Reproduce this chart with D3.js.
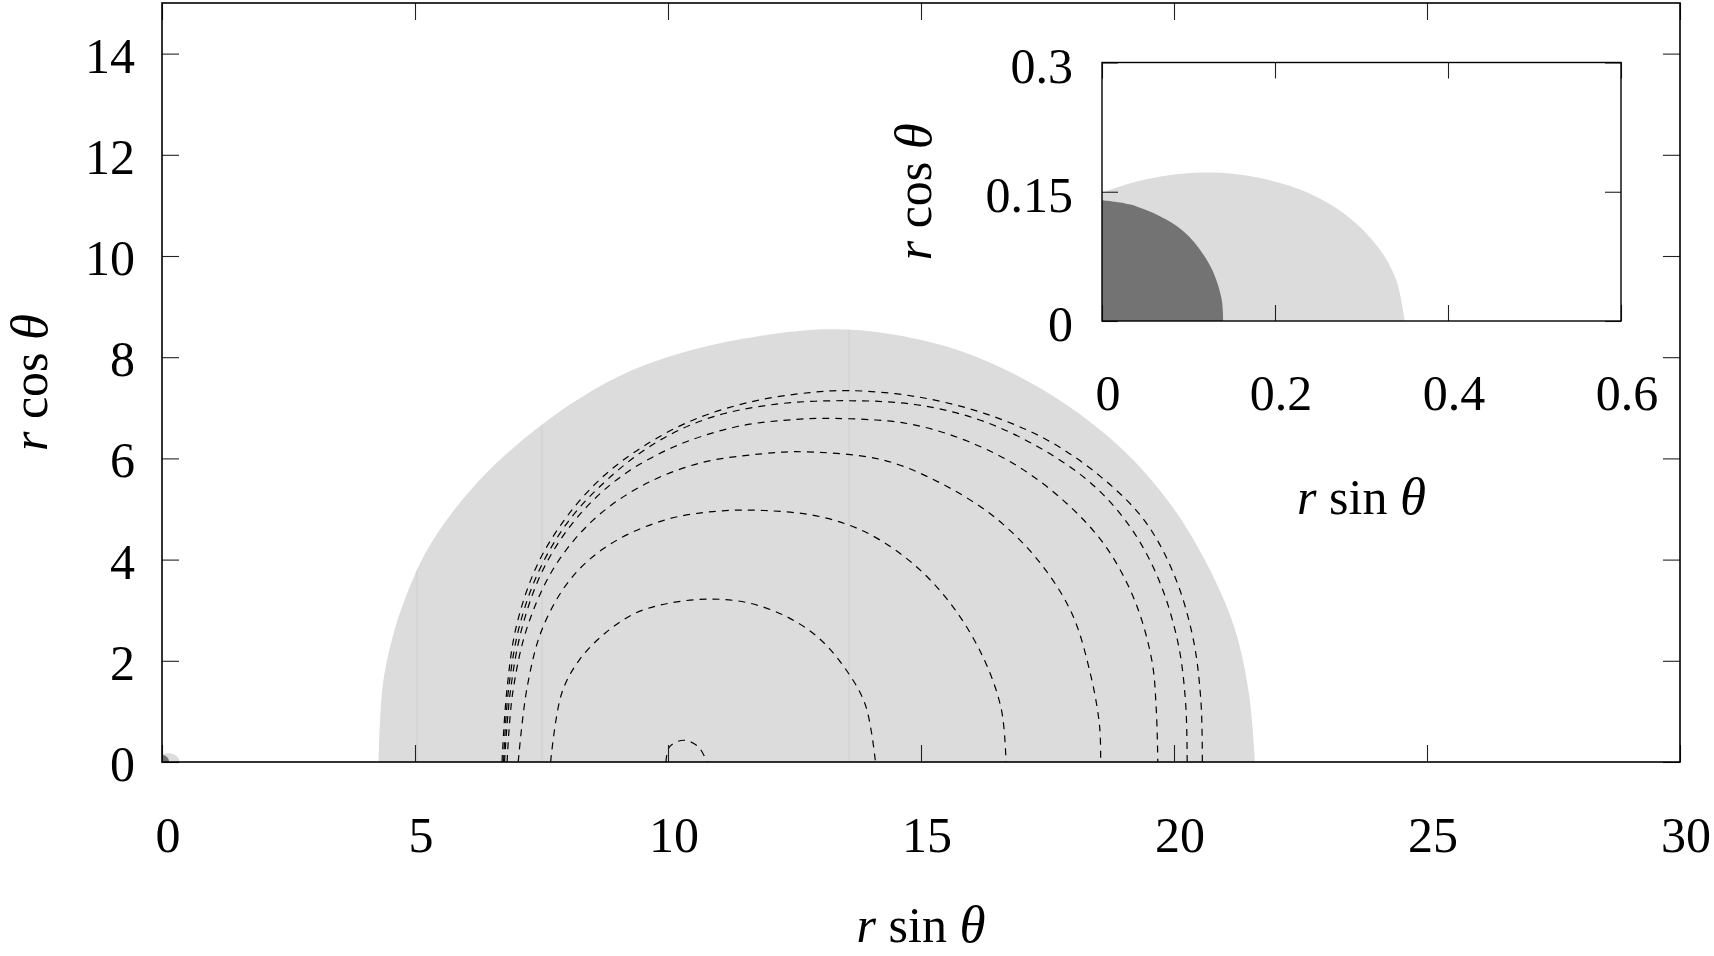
<!DOCTYPE html>
<html>
<head>
<meta charset="utf-8">
<script src="https://cdn.jsdelivr.net/npm/d3@7"></script>
<style>
body { margin: 0; background: #fff; }
svg text { font-family: "Liberation Serif", "Times New Roman", serif; fill: #000; }
</style>
</head>
<body>
<svg id="chart" width="1714" height="956"></svg>
<script>
// Tick values
const xTicks = [0, 5, 10, 15, 20, 25, 30];
const yTicks = [0, 2, 4, 6, 8, 10, 12, 14];
const insetXTicks = [0, 0.2, 0.4, 0.6];
const insetYTicks = [0, 0.15, 0.3];

// Regions, points [r sin θ, r cos θ]
const outerRegion = [[4.28,0],[4.36,1.49],[4.56,2.48],[4.82,3.27],[5.20,4.12],[5.72,4.91],[6.40,5.70],
  [7.05,6.30],[8.10,7.09],[9.15,7.68],[10.50,8.15],[11.82,8.42],[13.10,8.55],[14.12,8.50],[15.51,8.21],
  [16.67,7.75],[17.83,7.09],[18.99,6.17],[19.92,5.11],[20.61,3.99],[21.19,2.67],[21.48,1.36],[21.60,0]];
const haloRegion = [[0,0.149],[0.040,0.162],[0.092,0.171],[0.135,0.172],[0.187,0.165],[0.240,0.148],
  [0.282,0.123],[0.319,0.086],[0.340,0.048],[0.350,0]];
const coreRegion = [[0,0.140],[0.040,0.133],[0.092,0.106],[0.124,0.066],[0.138,0.027],[0.140,0]];

// faint seams inside the outer region
const seams = [5.04, 7.51, 13.58];

// Dashed contours
const level1 = [[9.96,0],[10.03,0.30],[10.31,0.43],[10.60,0.30],[10.77,0]];
const level2 = [[7.68,0],[7.90,1.36],[8.25,2.02],[8.75,2.54],[9.35,2.94],[10.03,3.14],[10.85,3.22],
  [11.61,3.14],[12.35,2.87],[12.98,2.45],[13.50,1.85],[13.90,1.13],[14.10,0]];
const level3 = [[7.04,0],[7.22,1.50],[7.53,2.67],[8.11,3.66],[8.88,4.32],[9.93,4.78],[10.89,4.95],
  [11.90,4.97],[13.00,4.85],[13.95,4.52],[14.91,3.86],[15.68,3.00],[16.25,2.02],[16.59,1.03],[16.68,0]];
const level4 = [[6.82,0],[6.93,1.36],[7.22,2.67],[7.76,3.86],[8.52,4.78],[9.45,5.44],[10.60,5.90],
  [11.85,6.09],[12.70,6.13],[14.24,5.97],[15.39,5.51],[16.44,4.85],[17.31,3.99],[17.98,2.94],
  [18.36,1.69],[18.53,0.70],[18.55,0]];
const level5 = [[6.77,0],[6.88,1.36],[7.12,2.67],[7.56,3.86],[8.22,4.85],[9.07,5.64],[10.12,6.23],
  [11.37,6.63],[12.52,6.77],[13.30,6.79],[14.72,6.69],[15.87,6.36],[16.92,5.84],[17.88,5.11],
  [18.65,4.26],[19.22,3.20],[19.56,2.02],[19.65,1.03],[19.68,0]];
const level6 = [[6.75,0],[6.84,1.36],[7.06,2.67],[7.46,3.80],[8.05,4.78],[8.80,5.58],[9.74,6.30],
  [10.79,6.79],[12.04,7.06],[13.50,7.14],[14.91,7.06],[16.16,6.76],[17.31,6.23],[18.36,5.51],
  [19.13,4.65],[19.70,3.60],[20.08,2.35],[20.23,1.16],[20.26,0]];
const level7 = [[6.72,0],[6.81,1.36],[7.00,2.67],[7.40,3.86],[7.95,4.78],[8.65,5.58],[9.50,6.23],
  [10.50,6.76],[11.65,7.12],[12.80,7.30],[13.60,7.34],[14.91,7.22],[16.25,6.89],[17.50,6.36],
  [18.55,5.64],[19.41,4.78],[19.99,3.73],[20.37,2.48],[20.53,1.23],[20.56,0]];
const contours = [level1, level2, level3, level4, level5, level6, level7];

const LIGHT = '#dcdcdc';
const DARK = '#737373';
const TICK = 17;

const svg = d3.select('#chart');

// Main plot scales (equal aspect)
const x = d3.scaleLinear().domain([0, 30]).range([162, 1680]);
const y = d3.scaleLinear().domain([0, 15]).range([762, 3]);

// Inset scales
const xi = d3.scaleLinear().domain([0, 0.6]).range([1102, 1621]);
const yi = d3.scaleLinear().domain([0, 0.3]).range([321, 62.5]);

const defs = svg.append('defs');
defs.append('clipPath').attr('id', 'mainClip')
  .append('rect').attr('x', 162).attr('y', 3).attr('width', 1518).attr('height', 759);
defs.append('clipPath').attr('id', 'insetClip')
  .append('rect').attr('x', 1102).attr('y', 62.5).attr('width', 519).attr('height', 258.5);

function regionArea(sx, sy) {
  return d3.area()
    .x(d => sx(d[0]))
    .y0(sy(0))
    .y1(d => sy(d[1]))
    .curve(d3.curveCatmullRom.alpha(0.5));
}
function contourLine(sx, sy) {
  return d3.line()
    .x(d => sx(d[0]))
    .y(d => sy(d[1]))
    .curve(d3.curveCatmullRom.alpha(0.5));
}

// ---- main plot ----
const main = svg.append('g').attr('clip-path', 'url(#mainClip)');
main.append('path').attr('d', regionArea(x, y)(outerRegion)).attr('fill', LIGHT);

defs.append('clipPath').attr('id', 'outerClip')
  .append('path').attr('d', regionArea(x, y)(outerRegion));
main.append('g').attr('clip-path', 'url(#outerClip)')
  .selectAll('line').data(seams).enter().append('line')
  .attr('x1', d => x(d)).attr('x2', d => x(d))
  .attr('y1', y(0)).attr('y2', y(9))
  .attr('stroke', '#cfcfcf').attr('stroke-width', 1);

main.append('path').attr('d', regionArea(x, y)(haloRegion)).attr('fill', LIGHT);
main.append('path').attr('d', regionArea(x, y)(coreRegion)).attr('fill', DARK);

main.append('g').selectAll('path').data(contours).enter().append('path')
  .attr('d', contourLine(x, y))
  .attr('fill', 'none')
  .attr('stroke', '#000')
  .attr('stroke-width', 1.2)
  .attr('stroke-dasharray', '7,6');

// axes: inward ticks on all four sides
function styleAxis(g) {
  g.select('.domain').remove();
  g.selectAll('.tick line').attr('stroke', '#222').attr('stroke-width', 1.1);
  g.selectAll('.tick text').remove();
}
svg.append('g').attr('transform', `translate(0,${y(0)})`)
  .call(d3.axisBottom(x).tickValues(xTicks).tickSize(-TICK)).call(styleAxis);
svg.append('g').attr('transform', `translate(0,${y(15)})`)
  .call(d3.axisTop(x).tickValues(xTicks).tickSize(-TICK)).call(styleAxis);
svg.append('g').attr('transform', `translate(${x(0)},0)`)
  .call(d3.axisLeft(y).tickValues(yTicks).tickSize(-TICK)).call(styleAxis);
svg.append('g').attr('transform', `translate(${x(30)},0)`)
  .call(d3.axisRight(y).tickValues(yTicks).tickSize(-TICK)).call(styleAxis);

svg.append('rect')
  .attr('x', x(0)).attr('y', y(15))
  .attr('width', x(30) - x(0)).attr('height', y(0) - y(15))
  .attr('fill', 'none').attr('stroke', '#000').attr('stroke-width', 1.6);

svg.append('g').selectAll('text').data(xTicks).enter().append('text')
  .attr('x', d => x(d) + 6).attr('y', 852)
  .attr('text-anchor', 'middle').attr('font-size', 50)
  .text(d => String(d));
svg.append('g').selectAll('text').data(yTicks).enter().append('text')
  .attr('x', 135).attr('y', d => y(d) + 19)
  .attr('text-anchor', 'end').attr('font-size', 50)
  .text(d => String(d));

function axisTitle(g, fn) {
  const t = g.append('text').attr('font-size', 50).attr('text-anchor', 'middle');
  t.append('tspan').attr('font-style', 'italic').text('r');
  t.append('tspan').text(' ' + fn + ' ');
  t.append('tspan').attr('font-style', 'italic').attr('font-size', 53).text('θ');
  return t;
}
axisTitle(svg, 'sin').attr('x', x(15)).attr('y', 942);
axisTitle(svg, 'cos').attr('transform', `translate(47,${y(7.5)}) rotate(-90)`);

// ---- inset ----
svg.append('rect')
  .attr('x', xi(0)).attr('y', yi(0.3))
  .attr('width', xi(0.6) - xi(0)).attr('height', yi(0) - yi(0.3))
  .attr('fill', '#fff');
const inset = svg.append('g').attr('clip-path', 'url(#insetClip)');
inset.append('path').attr('d', regionArea(xi, yi)(haloRegion)).attr('fill', LIGHT);
inset.append('path').attr('d', regionArea(xi, yi)(coreRegion)).attr('fill', DARK);

svg.append('g').attr('transform', `translate(0,${yi(0)})`)
  .call(d3.axisBottom(xi).tickValues(insetXTicks).tickSize(-16)).call(styleAxis);
svg.append('g').attr('transform', `translate(0,${yi(0.3)})`)
  .call(d3.axisTop(xi).tickValues(insetXTicks).tickSize(-16)).call(styleAxis);
svg.append('g').attr('transform', `translate(${xi(0)},0)`)
  .call(d3.axisLeft(yi).tickValues(insetYTicks).tickSize(-16)).call(styleAxis);
svg.append('g').attr('transform', `translate(${xi(0.6)},0)`)
  .call(d3.axisRight(yi).tickValues(insetYTicks).tickSize(-16)).call(styleAxis);

svg.append('rect')
  .attr('x', xi(0)).attr('y', yi(0.3))
  .attr('width', xi(0.6) - xi(0)).attr('height', yi(0) - yi(0.3))
  .attr('fill', 'none').attr('stroke', '#000').attr('stroke-width', 1.4);

svg.append('g').selectAll('text').data(insetXTicks).enter().append('text')
  .attr('x', d => xi(d) + 6).attr('y', 410)
  .attr('text-anchor', 'middle').attr('font-size', 50)
  .text(d => String(d));
svg.append('g').selectAll('text').data(insetYTicks).enter().append('text')
  .attr('x', 1073).attr('y', d => yi(d) + 20)
  .attr('text-anchor', 'end').attr('font-size', 50)
  .text(d => String(d));

axisTitle(svg, 'sin').attr('x', xi(0.3)).attr('y', 514);
axisTitle(svg, 'cos').attr('transform', `translate(931,${yi(0.15)}) rotate(-90)`);
</script>
</body>
</html>
